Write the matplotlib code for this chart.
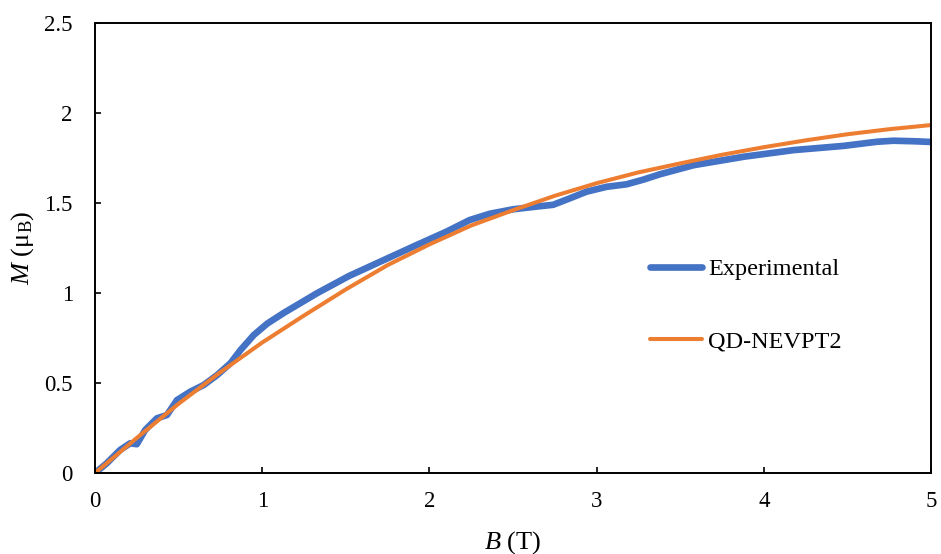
import numpy as np
import matplotlib.pyplot as plt

plt.rcParams['font.family'] = ['Liberation Serif', 'DejaVu Serif']
plt.rcParams['mathtext.fontset'] = 'custom'
plt.rcParams['mathtext.rm'] = 'Liberation Serif'
plt.rcParams['mathtext.it'] = 'Liberation Serif:italic'

# measured magnetisation
B_exp = [0, 0.07, 0.15, 0.21, 0.25, 0.30, 0.37, 0.43, 0.49, 0.57, 0.65, 0.73,
         0.81, 0.87, 0.95, 1.03, 1.13, 1.33, 1.52, 1.72, 1.92, 2.10, 2.24,
         2.36, 2.50, 2.64, 2.74, 2.84, 2.94, 3.06, 3.18, 3.28, 3.38, 3.58,
         3.88, 4.18, 4.475, 4.675, 4.775, 4.90, 5.0]
M_exp = [0, 0.054, 0.128, 0.165, 0.16, 0.239, 0.304, 0.322, 0.405, 0.452,
         0.489, 0.544, 0.61, 0.683, 0.767, 0.83, 0.89, 1.0, 1.095, 1.18,
         1.265, 1.34, 1.405, 1.44, 1.465, 1.48, 1.49, 1.526, 1.563, 1.59,
         1.604, 1.63, 1.66, 1.71, 1.757, 1.794, 1.817, 1.84, 1.846, 1.843,
         1.839]

# QD-NEVPT2 calculation
B_calc = [0, 0.25, 0.5, 0.75, 1.0, 1.25, 1.5, 1.75, 2.0, 2.25, 2.5, 2.75,
          3.0, 3.25, 3.5, 3.75, 4.0, 4.25, 4.5, 4.75, 5.0]
M_calc = [0, 0.195, 0.385, 0.56, 0.725, 0.875, 1.02, 1.155, 1.27, 1.375,
          1.46, 1.54, 1.61, 1.67, 1.72, 1.768, 1.81, 1.848, 1.882, 1.91,
          1.933]

fig = plt.figure(figsize=(9.41, 5.54), dpi=100)
ax = fig.add_axes([0.101, 0.1462, 0.8884, 0.8123])

ax.plot(B_exp, M_exp, color='#4472C4', lw=4.8, solid_capstyle='round',
        solid_joinstyle='round', label='Experimental')
ax.plot(B_calc, M_calc, color='#ED7D31', lw=2.9, solid_capstyle='round',
        solid_joinstyle='round', label='QD-NEVPT2')

ax.set_xlim(0, 5)
ax.set_ylim(0, 2.5)
ax.set_xticks([0, 1, 2, 3, 4, 5])
ax.set_yticks([0, 0.5, 1, 1.5, 2, 2.5])
ax.set_yticklabels(['0', '0.5', '1', '1.5', '2', '2.5'])
ax.tick_params(direction='in', length=4, width=1.2, labelsize=16.5,
               color='black')
ax.tick_params(axis='x', pad=13)
ax.tick_params(axis='y', pad=16)
for s in ax.spines.values():
    s.set_linewidth(1.4)

ax.set_xlabel(r'$\mathit{B}$ (T)', fontsize=19, labelpad=12)
ax.set_ylabel(r'$\mathit{M}$ ($\mathregular{\mu_B}$)', fontsize=19,
              labelpad=6)

ax.legend(loc='center left', bbox_to_anchor=(0.6376, 0.373), frameon=False,
          fontsize=17.5, handlelength=2.13, handletextpad=0.25,
          labelspacing=2.05)

fig.savefig('out.png', dpi=100)
